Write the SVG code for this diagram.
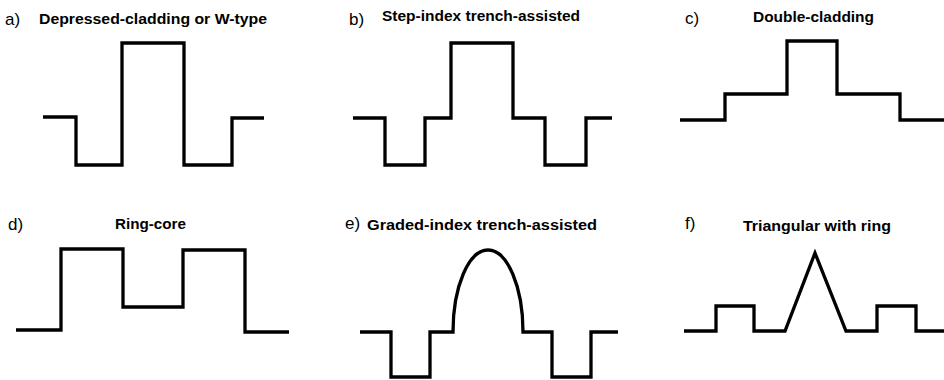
<svg xmlns="http://www.w3.org/2000/svg" width="944" height="380" viewBox="0 0 944 380">
  <style>
    .lbl { font-family: "Liberation Sans", Arial, sans-serif; font-size: 17px; fill: #000; }
    .ttl { font-family: "Liberation Sans", Arial, sans-serif; font-size: 14px; font-weight: bold; fill: #000; }
    .prof { fill: none; stroke: #000; stroke-width: 3.3; stroke-linejoin: miter; stroke-linecap: butt; }
  </style>
  <rect width="944" height="380" fill="#fff"/>

  <!-- a) depressed cladding / W-type -->
  <g id="profile-a">
    <text class="lbl" x="5" y="25">a)</text>
    <text class="ttl" x="39" y="24" textLength="228" lengthAdjust="spacingAndGlyphs">Depressed-cladding or W-type</text>
    <path class="prof" d="M43,117 H76 V165 H122 V43 H184 V165 H232 V118 H264"/>
  </g>

  <!-- b) step-index, trench-assisted -->
  <g id="profile-b">
    <text class="lbl" x="349" y="25">b)</text>
    <text class="ttl" x="382" y="21" textLength="198" lengthAdjust="spacingAndGlyphs">Step-index trench-assisted</text>
    <path class="prof" d="M353,118 H385 V165 H425 V118 H451 V43 H513 V118 H545 V165 H586 V118 H612"/>
  </g>

  <!-- c) double cladding -->
  <g id="profile-c">
    <text class="lbl" x="685" y="24">c)</text>
    <text class="ttl" x="753" y="22" textLength="121" lengthAdjust="spacingAndGlyphs">Double-cladding</text>
    <path class="prof" d="M680,120 H725 V94 H787 V41 H837 V94 H900 V120 H944"/>
  </g>

  <!-- d) ring core -->
  <g id="profile-d">
    <text class="lbl" x="8" y="230">d)</text>
    <text class="ttl" x="115" y="229" textLength="71" lengthAdjust="spacingAndGlyphs">Ring-core</text>
    <path class="prof" d="M16,330 H61 V249 H123 V307 H183 V250 H245 V332 H289"/>
  </g>

  <!-- e) graded-index, trench-assisted -->
  <g id="profile-e">
    <text class="lbl" x="345" y="229">e)</text>
    <text class="ttl" x="367" y="230" textLength="230" lengthAdjust="spacingAndGlyphs">Graded-index trench-assisted</text>
    <path class="prof" d="M360,332 H391 V377 H430 V332 H453 A35,82 0 0 1 523,332 H552 V377 H591 V332 H618"/>
  </g>

  <!-- f) triangular core with ring -->
  <g id="profile-f">
    <text class="lbl" x="685" y="229">f)</text>
    <text class="ttl" x="743" y="231" textLength="148" lengthAdjust="spacingAndGlyphs">Triangular with ring</text>
    <path class="prof" d="M684,331 H716 V306 H754 V331 H785 L815,253 L846,331 H877 V306 H916 V331 H944"/>
  </g>
</svg>
